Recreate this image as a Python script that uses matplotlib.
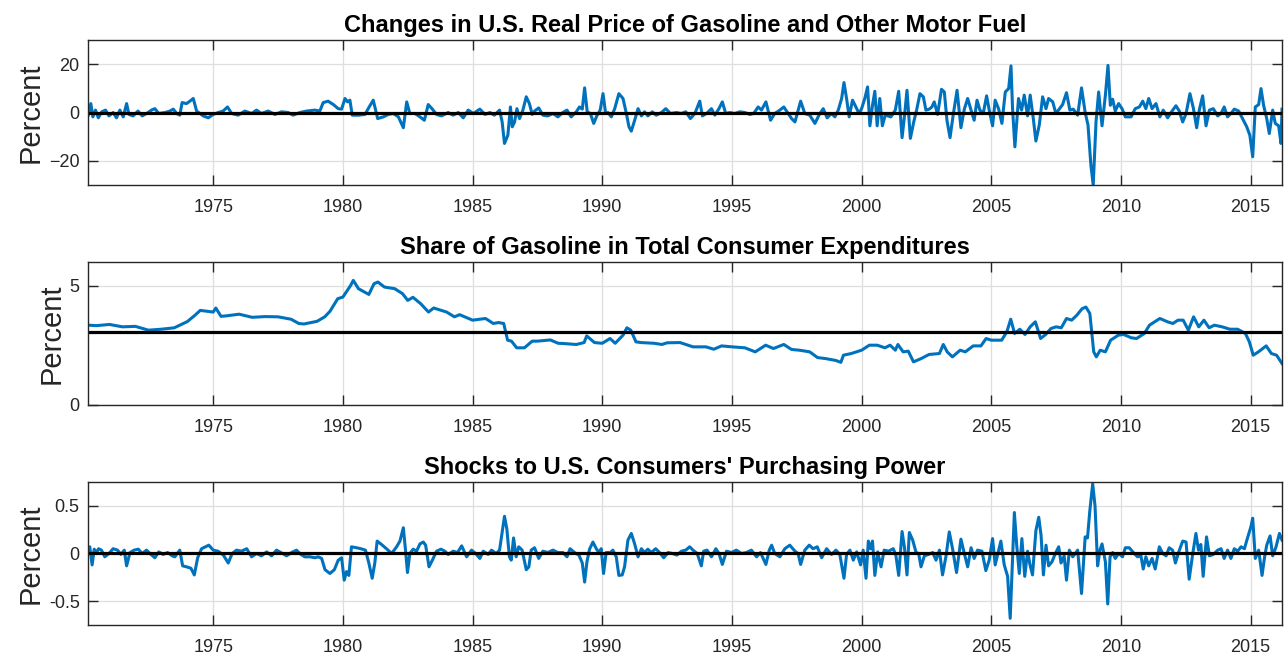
# -*- coding: utf-8 -*-
"""
Gasoline price changes, gasoline expenditure share and purchasing power shocks
"""

import numpy as np
from matplotlib import pyplot as plt

# =============================================================================
# DATA
# =============================================================================
## Changes in U.S. real price of gasoline (percent)
price_t = [1970.18, 1970.28, 1970.36, 1970.46, 1970.57, 1970.70, 1970.85, 1970.98, 1971.14, 1971.27,
           1971.40, 1971.53, 1971.66, 1971.75, 1971.91, 1972.10, 1972.26, 1972.43, 1972.62, 1972.75,
           1972.90, 1973.14, 1973.33, 1973.46, 1973.59, 1973.71, 1973.80, 1973.97, 1974.10, 1974.23,
           1974.36, 1974.49, 1974.61, 1974.81, 1975.00, 1975.19, 1975.38, 1975.55, 1975.71, 1975.96,
           1976.22, 1976.48, 1976.67, 1976.86, 1977.12, 1977.38, 1977.63, 1977.89, 1978.08, 1978.34,
           1978.60, 1978.92, 1979.11, 1979.24, 1979.43, 1979.63, 1979.82, 1979.95, 1980.08, 1980.18,
           1980.27, 1980.36, 1980.59, 1980.85, 1981.04, 1981.17, 1981.34, 1981.56, 1981.75, 1981.94,
           1982.14, 1982.33, 1982.46, 1982.58, 1982.78, 1982.97, 1983.14, 1983.29, 1983.45, 1983.61,
           1983.80, 1984.06, 1984.25, 1984.45, 1984.64, 1984.83, 1985.03, 1985.28, 1985.48, 1985.67,
           1985.84, 1986.04, 1986.14, 1986.23, 1986.36, 1986.46, 1986.53, 1986.62, 1986.71, 1986.81,
           1986.94, 1987.07, 1987.19, 1987.30, 1987.39, 1987.55, 1987.71, 1987.90, 1988.10, 1988.29,
           1988.48, 1988.64, 1988.80, 1989.00, 1989.12, 1989.23, 1989.32, 1989.42, 1989.54, 1989.67,
           1989.79, 1989.92, 1990.03, 1990.13, 1990.22, 1990.35, 1990.48, 1990.64, 1990.80, 1990.93,
           1991.03, 1991.12, 1991.25, 1991.38, 1991.51, 1991.63, 1991.76, 1991.93, 1992.08, 1992.28,
           1992.45, 1992.63, 1992.86, 1993.05, 1993.22, 1993.40, 1993.57, 1993.76, 1993.86, 1994.02,
           1994.21, 1994.34, 1994.50, 1994.63, 1994.76, 1994.92, 1995.11, 1995.30, 1995.50, 1995.69,
           1995.84, 1996.01, 1996.14, 1996.31, 1996.49, 1996.65, 1996.85, 1997.00, 1997.17, 1997.30,
           1997.43, 1997.65, 1997.81, 1998.00, 1998.20, 1998.37, 1998.52, 1998.67, 1998.84, 1998.97,
           1999.10, 1999.23, 1999.32, 1999.42, 1999.52, 1999.65, 1999.78, 1999.90, 2000.00, 2000.13,
           2000.23, 2000.32, 2000.42, 2000.51, 2000.60, 2000.70, 2000.80, 2000.91, 2001.13, 2001.30,
           2001.43, 2001.56, 2001.65, 2001.75, 2001.88, 2002.01, 2002.12, 2002.25, 2002.38, 2002.48,
           2002.61, 2002.71, 2002.80, 2002.93, 2003.08, 2003.19, 2003.29, 2003.41, 2003.53, 2003.68,
           2003.83, 2003.96, 2004.09, 2004.22, 2004.34, 2004.45, 2004.56, 2004.69, 2004.82, 2004.92,
           2005.05, 2005.15, 2005.28, 2005.41, 2005.54, 2005.67, 2005.76, 2005.82, 2005.91, 2006.05,
           2006.17, 2006.27, 2006.40, 2006.50, 2006.62, 2006.72, 2006.85, 2006.98, 2007.11, 2007.21,
           2007.37, 2007.49, 2007.62, 2007.75, 2007.90, 2008.03, 2008.16, 2008.33, 2008.48, 2008.62,
           2008.73, 2008.84, 2008.93, 2009.04, 2009.14, 2009.27, 2009.40, 2009.50, 2009.59, 2009.68,
           2009.78, 2009.91, 2010.04, 2010.17, 2010.39, 2010.55, 2010.71, 2010.84, 2010.96, 2011.07,
           2011.20, 2011.35, 2011.50, 2011.63, 2011.80, 2011.97, 2012.12, 2012.25, 2012.38, 2012.51,
           2012.66, 2012.79, 2012.92, 2013.02, 2013.15, 2013.28, 2013.41, 2013.56, 2013.73, 2013.86,
           2013.98, 2014.11, 2014.24, 2014.37, 2014.54, 2014.69, 2014.85, 2014.97, 2015.08, 2015.18,
           2015.31, 2015.40, 2015.50, 2015.62, 2015.72, 2015.85, 2015.95, 2016.08, 2016.17, 2016.21]
price_chg = [-1.1, 3.7, -1.8, 1.0, -2.2, 0.3, 1.0, -1.4, 0.0, -2.2,
             1.0, -1.8, 3.7, -0.8, -1.4, 0.6, -1.4, -0.4, 1.0, 1.6,
             -0.4, 0.0, 0.6, 1.4, -0.4, -1.1, 4.1, 3.7, 4.7, 5.8,
             0.6, -0.4, -1.4, -2.2, -0.8, 0.0, 0.6, 2.3, -0.4, -1.1,
             0.6, -0.4, 1.0, -0.4, 0.6, -0.8, 0.3, 0.0, -1.1, 0.0,
             0.6, 1.0, 0.6, 4.1, 4.7, 3.3, 1.6, 1.4, 5.8, 4.4,
             5.1, -1.1, -1.1, -0.8, 2.8, 5.1, -2.5, -1.8, -0.8, -0.4,
             -1.8, -6.3, 4.4, -0.4, -0.4, -1.8, -3.2, 3.3, 1.4, -0.8,
             -1.4, 0.0, -1.1, 0.0, -2.2, 1.0, -0.4, 1.4, -0.8, 0.0,
             -1.1, 1.0, -3.9, -12.8, -9.4, 2.3, -5.9, -3.9, 1.6, -2.5,
             1.0, 6.5, 3.7, -0.8, 0.6, 1.9, -1.1, -1.4, -0.4, -1.8,
             0.0, 1.0, -1.8, 0.3, 2.3, 1.4, 10.2, 0.3, -0.4, -4.5,
             -1.4, 1.0, 7.8, -0.4, 0.0, -1.8, 1.6, 7.8, 5.8, -0.4,
             -5.9, -7.7, -3.2, 1.6, -1.4, 0.3, -1.4, 0.3, -1.1, 0.0,
             1.6, -0.4, 0.0, -0.4, 0.3, -2.5, -0.4, 4.7, -1.4, -0.4,
             1.6, -1.1, 1.6, 4.4, -0.4, 0.0, -0.4, 0.3, 0.0, -0.8,
             -0.4, 2.3, 1.0, 4.4, -3.2, -0.4, 1.0, 2.3, -0.4, -2.5,
             -3.9, 4.7, -0.4, -1.1, -4.5, -0.8, 1.6, -2.2, -0.4, -1.8,
             1.0, 5.8, 12.4, 5.8, -1.8, 5.1, 2.3, -0.4, 1.6, 6.1,
             10.6, -5.5, 3.0, 8.8, -5.5, 5.8, -5.5, -1.1, -1.8, 1.0,
             8.8, -10.4, -1.8, 9.2, -10.7, -3.9, 1.0, 7.8, 6.5, 1.0,
             1.4, 2.3, 4.4, -0.8, 9.6, 8.5, -3.2, -10.4, -1.1, 9.2,
             -6.3, 1.4, 5.8, 1.0, -3.2, 5.1, 1.0, -0.4, 6.9, 1.0,
             -5.5, 5.1, 1.6, -4.5, 8.5, 9.9, 19.3, 1.6, -14.2, 5.8,
             1.0, 7.2, -1.4, 7.2, -2.5, -11.8, -5.2, 6.5, 1.6, 5.8,
             4.4, -0.4, 1.4, 3.3, 8.2, 1.0, 1.4, -1.1, 10.2, 0.0,
             -5.2, -21.7, -30.0, -3.6, 8.5, -5.5, 7.2, 19.5, 3.0, 5.5,
             0.6, 3.7, 1.6, -1.8, -1.8, 1.6, 2.3, 4.7, 1.6, 5.8,
             1.6, 3.7, -1.8, 1.0, -2.2, 0.6, 2.8, 0.6, -3.9, -0.4,
             7.8, 1.9, -6.3, 1.0, 6.9, -5.5, 1.0, 1.6, -1.4, -0.4,
             2.3, -1.8, -0.4, 1.4, 0.6, -2.5, -5.9, -9.4, -18.3, 2.3,
             3.3, 9.9, 3.0, -2.5, -8.7, 1.0, -4.5, -5.5, -12.8, 1.4]

## Share of gasoline in total consumer expenditures (percent)
share_t = [1970.18, 1970.50, 1971.00, 1971.50, 1972.00, 1972.50, 1973.00, 1973.50, 1974.00, 1974.30,
           1974.50, 1975.00, 1975.10, 1975.30, 1975.50, 1976.00, 1976.50, 1977.00, 1977.50, 1978.00,
           1978.30, 1978.50, 1979.00, 1979.30, 1979.50, 1979.80, 1980.00, 1980.30, 1980.40, 1980.60,
           1981.00, 1981.20, 1981.35, 1981.60, 1982.00, 1982.30, 1982.50, 1982.70, 1983.00, 1983.30,
           1983.50, 1984.00, 1984.30, 1984.50, 1985.00, 1985.50, 1985.80, 1986.00, 1986.20, 1986.35,
           1986.50, 1986.70, 1987.00, 1987.30, 1987.50, 1988.00, 1988.30, 1988.50, 1989.00, 1989.30,
           1989.40, 1989.70, 1990.00, 1990.30, 1990.50, 1990.80, 1990.95, 1991.10, 1991.30, 1991.50,
           1992.00, 1992.30, 1992.50, 1993.00, 1993.50, 1994.00, 1994.30, 1994.60, 1995.00, 1995.50,
           1995.90, 1996.30, 1996.60, 1997.00, 1997.30, 1997.60, 1998.00, 1998.30, 1998.60, 1999.00,
           1999.20, 1999.30, 1999.60, 2000.00, 2000.30, 2000.60, 2000.90, 2001.10, 2001.30, 2001.40,
           2001.60, 2001.80, 2002.00, 2002.30, 2002.60, 2003.00, 2003.15, 2003.30, 2003.50, 2003.80,
           2004.00, 2004.30, 2004.60, 2004.80, 2005.00, 2005.40, 2005.60, 2005.75, 2005.90, 2006.10,
           2006.30, 2006.50, 2006.70, 2006.90, 2007.10, 2007.30, 2007.50, 2007.70, 2007.90, 2008.10,
           2008.30, 2008.50, 2008.65, 2008.80, 2008.95, 2009.05, 2009.20, 2009.40, 2009.60, 2009.90,
           2010.10, 2010.40, 2010.60, 2010.90, 2011.10, 2011.30, 2011.50, 2011.80, 2012.00, 2012.20,
           2012.40, 2012.60, 2012.80, 2013.00, 2013.20, 2013.40, 2013.60, 2013.90, 2014.20, 2014.50,
           2014.80, 2014.95, 2015.10, 2015.30, 2015.60, 2015.80, 2016.00, 2016.21]
share_val = [3.35, 3.33, 3.38, 3.28, 3.30, 3.14, 3.18, 3.24, 3.50, 3.77,
             3.97, 3.90, 4.07, 3.72, 3.74, 3.81, 3.68, 3.71, 3.70, 3.60,
             3.42, 3.40, 3.51, 3.70, 3.93, 4.46, 4.53, 5.02, 5.23, 4.88,
             4.64, 5.09, 5.16, 4.95, 4.88, 4.67, 4.39, 4.52, 4.25, 3.90,
             4.07, 3.90, 3.70, 3.79, 3.56, 3.63, 3.42, 3.46, 3.42, 2.72,
             2.68, 2.40, 2.40, 2.68, 2.68, 2.73, 2.59, 2.58, 2.54, 2.62,
             2.90, 2.62, 2.59, 2.79, 2.59, 2.93, 3.24, 3.14, 2.65, 2.62,
             2.59, 2.54, 2.61, 2.62, 2.44, 2.44, 2.34, 2.48, 2.44, 2.40,
             2.23, 2.51, 2.37, 2.54, 2.33, 2.30, 2.23, 1.99, 1.95, 1.87,
             1.79, 2.09, 2.16, 2.30, 2.51, 2.51, 2.40, 2.51, 2.30, 2.54,
             2.23, 2.26, 1.81, 1.95, 2.12, 2.16, 2.54, 2.23, 2.02, 2.30,
             2.23, 2.48, 2.48, 2.79, 2.72, 2.72, 3.07, 3.60, 3.00, 3.18,
             2.96, 3.28, 3.49, 2.79, 2.96, 3.21, 3.28, 3.24, 3.63, 3.56,
             3.77, 4.04, 4.11, 3.84, 2.23, 2.02, 2.30, 2.23, 2.72, 2.93,
             2.96, 2.82, 2.79, 3.00, 3.35, 3.49, 3.63, 3.49, 3.42, 3.56,
             3.56, 3.14, 3.70, 3.28, 3.56, 3.24, 3.35, 3.28, 3.18, 3.18,
             3.00, 2.65, 2.09, 2.23, 2.48, 2.16, 2.09, 1.74]
share_mean = 3.07

## Shocks to U.S. consumers' purchasing power (percent)
shock_t = [1970.18, 1970.24, 1970.33, 1970.41, 1970.50, 1970.58, 1970.69, 1970.82, 1970.98, 1971.14,
           1971.31, 1971.44, 1971.57, 1971.66, 1971.79, 1971.95, 1972.11, 1972.26, 1972.43, 1972.60,
           1972.75, 1972.90, 1973.07, 1973.24, 1973.42, 1973.52, 1973.71, 1973.82, 1973.97, 1974.14,
           1974.27, 1974.40, 1974.55, 1974.70, 1974.83, 1975.00, 1975.19, 1975.39, 1975.58, 1975.73,
           1975.90, 1976.09, 1976.29, 1976.48, 1976.67, 1976.86, 1977.06, 1977.25, 1977.44, 1977.61,
           1977.83, 1978.02, 1978.21, 1978.38, 1978.53, 1978.73, 1978.92, 1979.05, 1979.18, 1979.31,
           1979.50, 1979.67, 1979.82, 1979.95, 1980.05, 1980.14, 1980.23, 1980.33, 1980.53, 1980.69,
           1980.87, 1981.00, 1981.13, 1981.23, 1981.32, 1981.49, 1981.68, 1981.88, 1982.07, 1982.20,
           1982.33, 1982.42, 1982.49, 1982.58, 1982.71, 1982.84, 1982.97, 1983.10, 1983.19, 1983.32,
           1983.45, 1983.61, 1983.78, 1983.93, 1984.06, 1984.25, 1984.42, 1984.58, 1984.77, 1984.96,
           1985.12, 1985.28, 1985.41, 1985.60, 1985.73, 1985.91, 1986.04, 1986.14, 1986.23, 1986.32,
           1986.42, 1986.49, 1986.58, 1986.68, 1986.78, 1986.91, 1987.07, 1987.17, 1987.26, 1987.39,
           1987.55, 1987.71, 1987.90, 1988.10, 1988.29, 1988.48, 1988.64, 1988.76, 1988.93, 1989.10,
           1989.23, 1989.32, 1989.41, 1989.51, 1989.64, 1989.77, 1989.87, 1989.96, 1990.05, 1990.15,
           1990.31, 1990.41, 1990.54, 1990.64, 1990.77, 1990.86, 1990.99, 1991.12, 1991.25, 1991.38,
           1991.51, 1991.63, 1991.76, 1991.89, 1992.06, 1992.21, 1992.37, 1992.54, 1992.70, 1992.88,
           1993.05, 1993.22, 1993.37, 1993.50, 1993.66, 1993.82, 1993.91, 1994.04, 1994.21, 1994.38,
           1994.50, 1994.63, 1994.79, 1994.98, 1995.17, 1995.37, 1995.56, 1995.75, 1995.95, 1996.10,
           1996.31, 1996.44, 1996.53, 1996.65, 1996.85, 1997.04, 1997.23, 1997.43, 1997.55, 1997.65,
           1997.81, 1997.98, 1998.13, 1998.29, 1998.46, 1998.65, 1998.84, 1999.01, 1999.16, 1999.32,
           1999.42, 1999.55, 1999.68, 1999.81, 1999.96, 2000.06, 2000.17, 2000.26, 2000.35, 2000.42,
           2000.51, 2000.62, 2000.75, 2000.87, 2001.04, 2001.22, 2001.32, 2001.43, 2001.56, 2001.65,
           2001.75, 2001.84, 2001.97, 2002.10, 2002.20, 2002.29, 2002.42, 2002.58, 2002.74, 2002.87,
           2003.00, 2003.12, 2003.25, 2003.38, 2003.51, 2003.66, 2003.83, 2003.96, 2004.09, 2004.22,
           2004.34, 2004.47, 2004.64, 2004.79, 2004.92, 2005.05, 2005.15, 2005.24, 2005.37, 2005.50,
           2005.63, 2005.73, 2005.80, 2005.89, 2005.98, 2006.08, 2006.18, 2006.29, 2006.40, 2006.49,
           2006.59, 2006.72, 2006.83, 2006.92, 2007.01, 2007.11, 2007.21, 2007.34, 2007.47, 2007.60,
           2007.69, 2007.81, 2007.90, 2008.01, 2008.14, 2008.24, 2008.33, 2008.48, 2008.62, 2008.71,
           2008.80, 2008.91, 2009.00, 2009.10, 2009.19, 2009.27, 2009.40, 2009.49, 2009.58, 2009.68,
           2009.78, 2009.91, 2010.06, 2010.17, 2010.32, 2010.51, 2010.64, 2010.77, 2010.86, 2010.96,
           2011.07, 2011.20, 2011.32, 2011.48, 2011.61, 2011.74, 2011.86, 2011.99, 2012.10, 2012.22,
           2012.38, 2012.51, 2012.63, 2012.76, 2012.89, 2012.99, 2013.08, 2013.17, 2013.30, 2013.41,
           2013.56, 2013.73, 2013.86, 2013.98, 2014.11, 2014.24, 2014.37, 2014.50, 2014.63, 2014.76,
           2014.88, 2015.01, 2015.08, 2015.18, 2015.31, 2015.44, 2015.53, 2015.62, 2015.75, 2015.85,
           2015.98, 2016.11, 2016.21]
shock_val = [0.045, 0.07, -0.12, 0.045, 0.01, 0.05, 0.035, -0.035, 0.0, 0.05,
             0.035, -0.01, 0.035, -0.13, 0.01, 0.035, 0.045, 0.0, 0.035, -0.01,
             -0.045, 0.017, -0.01, 0.01, -0.025, -0.035, 0.035, -0.13, -0.14, -0.155,
             -0.225, -0.045, 0.05, 0.07, 0.087, 0.035, 0.024, -0.017, -0.10, 0.0,
             0.035, 0.024, 0.05, -0.035, 0.0, -0.025, 0.017, -0.025, 0.035, 0.01,
             -0.025, 0.01, 0.035, -0.01, -0.035, -0.035, -0.045, -0.035, -0.052, -0.17,
             -0.21, -0.17, -0.07, -0.045, -0.28, -0.19, -0.23, 0.07, 0.06, 0.05,
             0.035, -0.10, -0.26, -0.10, 0.13, 0.094, 0.05, 0.0, 0.07, 0.13,
             0.27, 0.017, -0.20, 0.0, 0.045, 0.024, 0.10, 0.12, 0.087, -0.14,
             -0.07, 0.024, 0.045, 0.024, -0.01, 0.024, 0.01, 0.08, -0.035, 0.035,
             0.0, -0.052, 0.024, -0.01, 0.035, 0.0, 0.035, 0.226, 0.39, 0.26,
             -0.035, -0.07, 0.163, -0.035, 0.07, 0.035, -0.17, -0.14, 0.035, 0.06,
             -0.052, 0.024, 0.01, 0.035, 0.01, 0.01, -0.035, 0.05, 0.01, -0.017,
             -0.10, -0.30, -0.087, 0.045, 0.12, 0.05, 0.01, 0.05, -0.21, 0.01,
             0.01, 0.035, -0.035, -0.23, -0.225, -0.14, 0.14, 0.21, 0.10, -0.035,
             0.05, 0.01, 0.045, 0.01, 0.05, 0.01, -0.045, 0.01, 0.0, -0.017,
             0.024, 0.035, 0.07, 0.035, 0.0, -0.13, 0.024, 0.035, -0.035, 0.05,
             0.0, -0.115, 0.024, 0.01, 0.035, 0.0, 0.01, 0.035, -0.035, 0.01,
             -0.115, 0.035, 0.087, 0.0, -0.035, 0.05, 0.087, 0.024, 0.0, -0.115,
             0.035, 0.087, 0.05, 0.07, -0.045, 0.05, -0.01, 0.035, -0.01, -0.26,
             -0.01, 0.035, -0.07, 0.017, -0.12, 0.035, -0.26, 0.13, 0.05, 0.13,
             -0.23, 0.017, -0.14, 0.035, 0.024, 0.05, -0.017, -0.23, 0.23, 0.07,
             -0.225, 0.22, 0.14, 0.01, 0.0, -0.14, -0.025, -0.01, 0.01, -0.07,
             0.035, -0.225, -0.035, 0.226, 0.045, -0.20, 0.15, 0.0, -0.14, 0.06,
             -0.052, 0.035, 0.024, -0.18, -0.07, 0.156, -0.12, -0.017, 0.13, -0.12,
             -0.24, -0.68, -0.19, 0.43, 0.087, -0.21, 0.156, -0.24, 0.024, -0.115,
             -0.225, 0.24, 0.38, 0.19, -0.225, 0.087, -0.13, -0.087, 0.0, 0.07,
             -0.10, -0.025, -0.28, 0.035, -0.035, 0.0, 0.035, -0.42, 0.174, 0.163,
             0.45, 0.73, 0.50, -0.13, 0.035, 0.10, -0.087, -0.53, -0.035, 0.01,
             -0.052, 0.0, -0.035, 0.06, 0.06, 0.0, -0.035, -0.025, -0.163, -0.035,
             -0.13, -0.052, -0.163, 0.07, 0.0, -0.025, 0.06, 0.035, -0.10, 0.01,
             0.13, 0.12, -0.27, -0.017, 0.21, 0.035, 0.094, -0.24, 0.174, -0.025,
             -0.01, 0.035, 0.05, -0.052, 0.035, -0.052, 0.05, 0.024, 0.07, 0.05,
             0.163, 0.28, 0.37, -0.052, 0.035, -0.23, -0.052, 0.087, 0.184, -0.025,
             0.07, 0.21, 0.14]

titles = ['Changes in U.S. Real Price of Gasoline and Other Motor Fuel',
          'Share of Gasoline in Total Consumer Expenditures',
          "Shocks to U.S. Consumers' Purchasing Power"]
year_ticks = [1975, 1980, 1985, 1990, 1995, 2000, 2005, 2010, 2015]

# =============================================================================
# PLOT
# =============================================================================
plt.rcParams['font.family'] = ['Liberation Sans', 'DejaVu Sans']
blue = '#0072BD'

fig = plt.figure(figsize=(12.86, 6.58), dpi=100)
ax1 = fig.add_axes([0.0684, 0.7188, 0.9285, 0.2204])
ax2 = fig.add_axes([0.0684, 0.3845, 0.9285, 0.2173])
ax3 = fig.add_axes([0.0684, 0.0502, 0.9285, 0.2173])

ax1.plot(price_t, price_chg, color=blue, lw=2.2)
ax1.axhline(0, color='k', lw=2.3)
ax1.set_ylim(-30, 30)
ax1.set_yticks([-20, 0, 20])

ax2.plot(share_t, share_val, color=blue, lw=2.2)
ax2.axhline(share_mean, color='k', lw=2.3)
ax2.set_ylim(0, 6)
ax2.set_yticks([0, 5])

ax3.plot(shock_t, shock_val, color=blue, lw=2.2)
ax3.axhline(0, color='k', lw=2.3)
ax3.set_ylim(-0.75, 0.75)
ax3.set_yticks([-0.5, 0, 0.5])
ax3.set_yticklabels(['-0.5', '0', '0.5'])

for ax, ttl in zip([ax1, ax2, ax3], titles):
    ax.set_xlim(1970.17, 2016.21)
    ax.set_xticks(year_ticks)
    ax.grid(True, color='#dedede', lw=0.9)
    ax.set_axisbelow(True)
    ax.tick_params(direction='in', length=7, width=1.0, top=True, right=True,
                   labelsize=13, colors='#262626', pad=6)
    ax.tick_params(axis='x', pad=10)
    for s in ax.spines.values():
        s.set_color('#262626')
        s.set_linewidth(1.0)
    ax.set_title(ttl, fontsize=17, fontweight='bold', pad=6)
    ax.set_ylabel('Percent', fontsize=21, color='#262626', labelpad=3)

fig.savefig('out.png', dpi=100)
